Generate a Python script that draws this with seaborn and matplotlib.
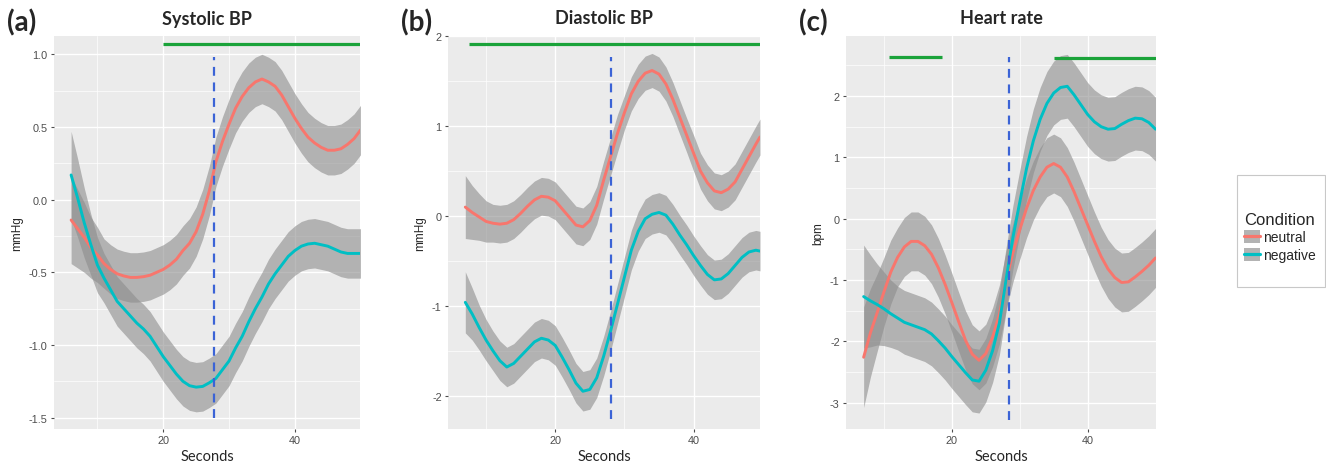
import numpy as np
import pandas as pd
import seaborn as sns
import matplotlib
matplotlib.use('Agg')
import matplotlib.pyplot as plt
from matplotlib.patches import Patch, Rectangle
from matplotlib.lines import Line2D
from matplotlib.ticker import MultipleLocator

sns.set_theme(style='darkgrid')
plt.rcParams['font.family'] = ['Liberation Sans', 'DejaVu Sans']
plt.rcParams['axes.unicode_minus'] = False

# ---- data ----
titles = ['Systolic BP', 'Diastolic BP', 'Heart rate']
panel_tags = ['(a)', '(b)', '(c)']
ylabels = ['mmHg', 'mmHg', 'bpm']

sec_a = [6, 7, 8, 9, 10, 11, 12, 13, 14, 15, 16, 17, 18, 19, 20, 21, 22, 23, 24, 25, 26, 27,
         28, 29, 30, 31, 32, 33, 34, 35, 36, 37, 38, 39, 40, 41, 42, 43, 44, 45, 46, 47, 48, 49, 50]
sec_b = [7, 8, 9, 10, 11, 12, 13, 14, 15, 16, 17, 18, 19, 20, 21, 22, 23, 24, 25, 26, 27,
         28, 29, 30, 31, 32, 33, 34, 35, 36, 37, 38, 39, 40, 41, 42, 43, 44, 45, 46, 47, 48, 49, 49.6]
sec_c = [7, 8, 9, 10, 11, 12, 13, 14, 15, 16, 17, 18, 19, 20, 21, 22, 23, 24, 25, 26, 27,
         28, 29, 30, 31, 32, 33, 34, 35, 36, 37, 38, 39, 40, 41, 42, 43, 44, 45, 46, 47, 48, 49, 50]

# (a) systolic BP
neutral_a = [-0.14, -0.20, -0.26, -0.33, -0.38, -0.44, -0.48, -0.51, -0.525, -0.535, -0.535, -0.53,
             -0.52, -0.50, -0.48, -0.45, -0.41, -0.35, -0.30, -0.22, -0.10, 0.06, 0.26, 0.40,
             0.52, 0.63, 0.71, 0.77, 0.81, 0.83, 0.81, 0.78, 0.72, 0.64, 0.56, 0.49, 0.43, 0.39,
             0.36, 0.34, 0.34, 0.35, 0.38, 0.42, 0.48]
negative_a = [0.17, 0.01, -0.16, -0.31, -0.45, -0.54, -0.62, -0.70, -0.75, -0.80, -0.85, -0.89,
              -0.94, -1.01, -1.08, -1.14, -1.20, -1.25, -1.28, -1.29, -1.285, -1.26, -1.23, -1.17,
              -1.11, -1.02, -0.94, -0.84, -0.75, -0.67, -0.58, -0.51, -0.45, -0.39, -0.35, -0.32,
              -0.305, -0.30, -0.31, -0.32, -0.34, -0.36, -0.37, -0.37, -0.37]
ci_a = [0.30, 0.27, 0.24, 0.21, 0.19] + [0.17] * 40

# (b) diastolic BP
neutral_b = [0.10, 0.04, -0.01, -0.06, -0.08, -0.09, -0.08, -0.04, 0.03, 0.11, 0.18, 0.22,
             0.21, 0.17, 0.08, -0.01, -0.10, -0.12, -0.05, 0.12, 0.40, 0.66, 0.92, 1.15, 1.36,
             1.50, 1.59, 1.62, 1.58, 1.47, 1.30, 1.10, 0.90, 0.70, 0.50, 0.37, 0.28, 0.26, 0.30,
             0.38, 0.52, 0.66, 0.80, 0.88]
neutral_b_ci = [0.35, 0.30, 0.26, 0.23] + [0.21] * 19 + [0.19] * 10 + [0.20] * 11
negative_b = [-0.96, -1.09, -1.24, -1.38, -1.50, -1.61, -1.68, -1.64, -1.56, -1.48, -1.40, -1.36,
              -1.38, -1.44, -1.57, -1.71, -1.86, -1.95, -1.93, -1.80, -1.56, -1.28, -0.98, -0.68,
              -0.38, -0.17, -0.03, 0.02, 0.04, 0.01, -0.09, -0.21, -0.32, -0.44, -0.55, -0.65,
              -0.71, -0.70, -0.64, -0.55, -0.46, -0.40, -0.38, -0.39]
negative_b_ci = [0.34, 0.29, 0.25, 0.23] + [0.22] * 40

# (c) heart rate
neutral_c = [-2.26, -1.86, -1.53, -1.19, -0.87, -0.63, -0.46, -0.37, -0.37, -0.44, -0.58, -0.80,
             -1.07, -1.37, -1.68, -1.98, -2.21, -2.31, -2.20, -1.93, -1.56, -1.00, -0.55, -0.18,
             0.17, 0.46, 0.68, 0.84, 0.90, 0.84, 0.68, 0.44, 0.17, -0.10, -0.37, -0.62, -0.82,
             -0.96, -1.04, -1.03, -0.95, -0.86, -0.76, -0.64]
neutral_c_ci = [0.82, 0.72, 0.63, 0.56, 0.52] + [0.48] * 39
negative_c = [-1.27, -1.34, -1.40, -1.47, -1.55, -1.62, -1.69, -1.73, -1.77, -1.81, -1.88, -1.99,
              -2.11, -2.25, -2.38, -2.51, -2.63, -2.65, -2.47, -2.15, -1.70, -0.98, -0.30, 0.27,
              0.82, 1.27, 1.62, 1.88, 2.05, 2.14, 2.16, 2.02, 1.86, 1.70, 1.58, 1.50, 1.46, 1.47,
              1.54, 1.60, 1.64, 1.63, 1.57, 1.46]
negative_c_ci = [0.84, 0.75, 0.66, 0.60, 0.55] + [0.52] * 39

# stimulus onset (dashed) and significance bars (green)
onset = [27.7, 28.0, 28.45]
onset_span = [(-1.5, 0.98), (-2.26, 1.77), (-3.29, 2.64)]
sig_bars = [[(20, 50, 1.07)],
            [(7.5, 50, 1.915)],
            [(10.8, 18.5, 2.63), (35.1, 50.5, 2.62)]]

xlims = [(3.4, 49.9), (4.5, 49.6), (4.4, 50.07)]
ylims = [(-1.578, 1.126), (-2.37, 2.004), (-3.43, 2.98)]
ysteps = [0.5, 1.0, 1.0]
ylabfmt = ['{:.1f}', '{:.0f}', '{:.0f}']

conditions = ['neutral', 'negative']
palette = {'neutral': '#F8766D', 'negative': '#00BFC4'}

panels = [
    (sec_a, neutral_a, ci_a, negative_a, ci_a),
    (sec_b, neutral_b, neutral_b_ci, negative_b, negative_b_ci),
    (sec_c, neutral_c, neutral_c_ci, negative_c, negative_c_ci),
]

fig = plt.figure(figsize=(13.26, 4.64), dpi=100)
axes_px = [(54, 360), (448, 760), (846, 1156)]
top_px, bot_px = 37, 430
W, H = 1326, 464

for i, (sec, neu, neu_ci, neg, neg_ci) in enumerate(panels):
    l, r = axes_px[i]
    ax = fig.add_axes([l / W, 1 - bot_px / H, (r - l) / W, (bot_px - top_px) / H])
    ax.set_facecolor('#EBEBEB')

    df = pd.DataFrame({
        'Seconds': sec + sec,
        'value': neu + neg,
        'ci': neu_ci + neg_ci,
        'Condition': ['neutral'] * len(sec) + ['negative'] * len(sec),
    })

    for cond in conditions:
        sub = df[df['Condition'] == cond]
        ax.fill_between(sub['Seconds'], sub['value'] - sub['ci'], sub['value'] + sub['ci'],
                        color='#8c8c8c', alpha=0.6, lw=0, zorder=2)

    sns.lineplot(data=df, x='Seconds', y='value', hue='Condition', palette=palette,
                 hue_order=conditions, lw=2.1, ax=ax, legend=False, zorder=3)

    for x0, x1, y in sig_bars[i]:
        ax.plot([x0, x1], [y, y], color='#1BA33A', lw=2.3, solid_capstyle='butt', zorder=4)
    ax.vlines(onset[i], onset_span[i][0], onset_span[i][1], colors='#3B63D6',
              linestyles=(0, (4, 3)), lw=1.6, zorder=4)

    ax.set_xlim(*xlims[i])
    ax.xaxis.set_major_locator(MultipleLocator(20))
    ax.xaxis.set_minor_locator(MultipleLocator(10))
    ax.set_ylim(*ylims[i])
    ax.yaxis.set_major_locator(MultipleLocator(ysteps[i]))
    ax.yaxis.set_minor_locator(MultipleLocator(ysteps[i] / 2))
    ticks = [t for t in ax.get_yticks() if ylims[i][0] <= t <= ylims[i][1]]
    ax.set_yticks(ticks)
    ax.set_yticklabels([ylabfmt[i].format(v) for v in ticks])
    ax.set_ylim(*ylims[i])
    ax.grid(which='major', color='white', lw=1.0)
    ax.grid(which='minor', color='white', lw=0.5)
    for s in ax.spines.values():
        s.set_visible(False)
    ax.tick_params(axis='both', which='major', length=2.5, width=0.8, color='#4d4d4d',
                   labelsize=7.8, labelcolor='#4d4d4d', pad=2, bottom=True, left=True)
    ax.tick_params(which='minor', length=0)

    ax.set_xlabel('Seconds', fontsize=10.5, family=['Lato', 'DejaVu Sans'], labelpad=3)
    ax.set_ylabel(ylabels[i], fontsize=8.5, labelpad=4)
    ax.set_title(titles[i], fontsize=13, fontweight='bold', family=['Lato', 'DejaVu Sans'], pad=9)

    fig.text((l - 47) / W, 1 - 23 / H, panel_tags[i], fontsize=20, fontweight='bold',
             family=['Lato', 'DejaVu Sans'], va='center', ha='left')

# legend: white box with thin grey border, then a frameless legend inside
fig.patches.append(Rectangle((1237 / W, 1 - 288 / H), 88 / W, 112 / H, transform=fig.transFigure,
                             facecolor='white', edgecolor='#c8c8c8', lw=0.8, zorder=0))
handles = [(Patch(facecolor='#b3b3b3', edgecolor='none'), Line2D([], [], color=palette[c], lw=2.3))
           for c in conditions]
leg = fig.legend(handles, conditions, title='Condition', loc='center left',
                 bbox_to_anchor=(1243 / W, 1 - 238 / H), fontsize=10, title_fontsize=12,
                 frameon=False, handlelength=1.1, handleheight=1.1, handletextpad=0.25,
                 labelspacing=0.25, borderaxespad=0, borderpad=0.1)
leg._legend_box.align = 'left'

fig.savefig('out.png', dpi=100)
